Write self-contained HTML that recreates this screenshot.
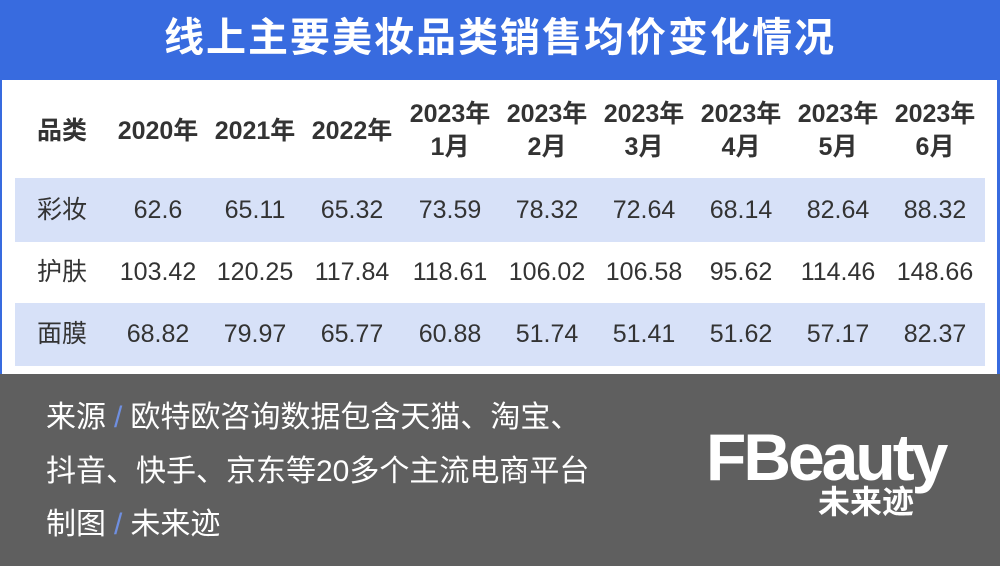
<!DOCTYPE html>
<html><head><meta charset="utf-8"><style>
*{margin:0;padding:0;box-sizing:border-box}
body{width:1000px;height:566px;overflow:hidden;background:#fff;font-family:"Liberation Sans","Noto Sans CJK SC",sans-serif;position:relative}
.hd{position:absolute;left:0;top:0;width:1000px;height:80px;background:#386bdf;color:#fff;font-size:40px;font-weight:bold;text-align:center;line-height:76px;letter-spacing:2px}
.bl{position:absolute;top:80px;left:0;width:2px;height:294px;background:#386bdf}
.br{position:absolute;top:80px;right:0;width:3px;height:294px;background:#386bdf}
.band{position:absolute;left:15px;width:970px;background:#d7e1f8}
.c{position:absolute;width:110px;text-align:center;color:#333;font-size:24px;line-height:30px;transform:translateX(-50%)}
.h{font-weight:bold;font-size:25px;line-height:33px;color:#333}
.ft{position:absolute;left:0;top:374px;width:1000px;height:192px;background:#5f5f5f}
.t{position:absolute;left:46px;color:#fff;font-size:30px;line-height:36px;white-space:nowrap}
.s{color:#6f8fe0;margin:0 8px}
</style></head><body>
<div class="hd">线上主要美妆品类销售均价变化情况</div>
<div class="bl"></div><div class="br"></div>
<div class="band" style="top:178px;height:64px"></div>
<div class="band" style="top:303px;height:63px"></div>
<div id="g"></div>
<div class="ft">
<div class="t" style="top:26px">来源<span class="s">/</span>欧特欧咨询数据包含天猫、淘宝、</div>
<div class="t" style="top:80px">抖音、快手、京东等20多个主流电商平台</div>
<div class="t" style="top:133px">制图<span class="s">/</span>未来迹</div>
<div style="position:absolute;left:706px;top:48px;color:#fff;font-size:66px;font-weight:bold;letter-spacing:-3px;line-height:70px">FBeauty</div>
<div style="position:absolute;left:818px;top:110px;color:#fff;font-size:32px;font-weight:bold;line-height:36px">未来迹</div>
</div>
<script>
var xs=[62,158,255,352,450,547,644,741,838,935];
var hd=["品类","2020年","2021年","2022年","2023年<br>1月","2023年<br>2月","2023年<br>3月","2023年<br>4月","2023年<br>5月","2023年<br>6月"];
var rows=[["彩妆","62.6","65.11","65.32","73.59","78.32","72.64","68.14","82.64","88.32"],
["护肤","103.42","120.25","117.84","118.61","106.02","106.58","95.62","114.46","148.66"],
["面膜","68.82","79.97","65.77","60.88","51.74","51.41","51.62","57.17","82.37"]];
var ys=[195,257,319],h="";
for(var i=0;i<10;i++){var two=hd[i].indexOf("<br>")>0;h+='<div class="c h" style="left:'+xs[i]+'px;top:'+(two?98:115)+'px">'+hd[i]+'</div>';}
rows.forEach(function(r,j){r.forEach(function(v,i){h+='<div class="c" style="left:'+xs[i]+'px;top:'+ys[j]+'px;font-size:'+(i==0?25:25)+'px">'+v+'</div>';});});
document.getElementById("g").innerHTML=h;
</script>
</body></html>
